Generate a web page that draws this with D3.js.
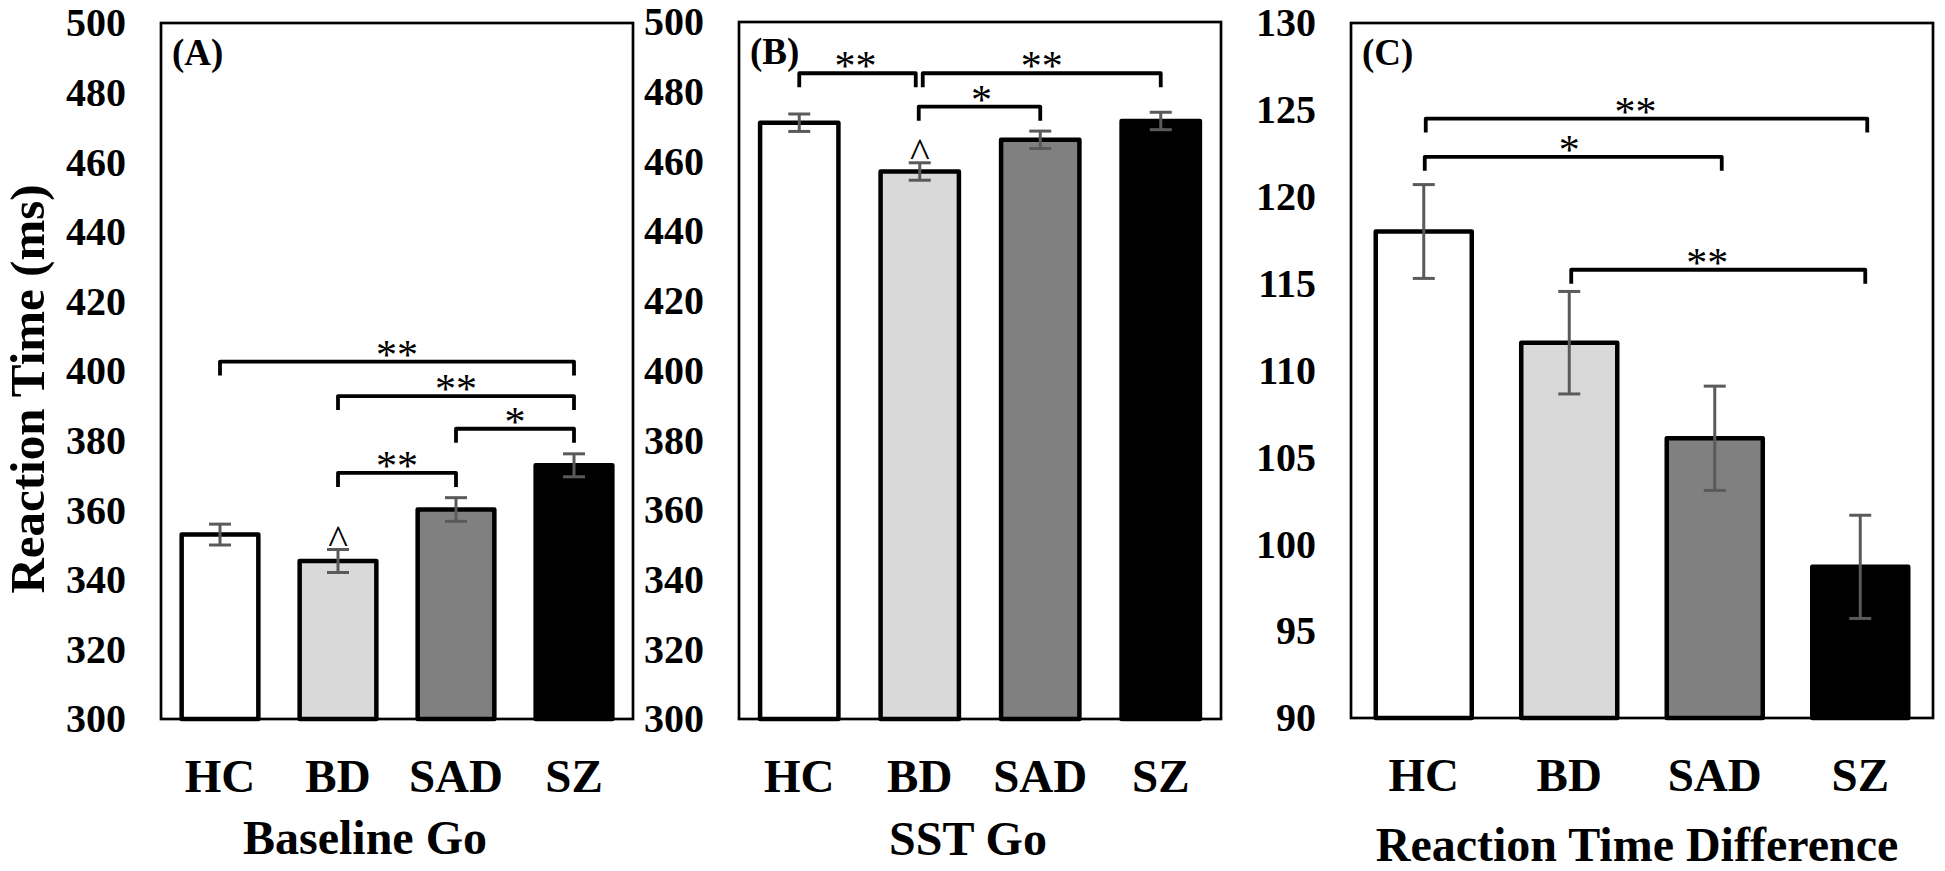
<!DOCTYPE html>
<html>
<head>
<meta charset="utf-8">
<script src="https://cdn.jsdelivr.net/npm/d3@7"></script>
<style>
  html, body { margin: 0; padding: 0; background: #fff; }
  svg { display: block; }
  text { font-family: "Liberation Serif", "Times New Roman", serif; }
</style>
</head>
<body>
<svg id="chart" width="1945" height="871"></svg>
<script>
// ---------------- data ----------------
const categories = ["HC", "BD", "SAD", "SZ"];
const barFills = ["#ffffff", "#d9d9d9", "#808080", "#000000"];

const baselineMeans = [353.0, 345.4, 360.2, 372.9];
const baselineSE    = [3.0, 3.3, 3.4, 3.3];

const sstMeans = [471.1, 457.1, 466.2, 471.6];
const sstSE    = [2.5, 2.5, 2.5, 2.5];

const diffMeans = [118.0, 111.6, 106.1, 98.7];
const diffSE    = [2.7, 2.95, 3.0, 2.97];

const rtTicks   = [300, 320, 340, 360, 380, 400, 420, 440, 460, 480, 500];
const diffTicks = [90, 95, 100, 105, 110, 115, 120, 125, 130];

const baselineBrackets = [
  { from: "HC",  to: "SZ",  level: 402.7, label: "**" },
  { from: "BD",  to: "SZ",  level: 392.8, label: "**" },
  { from: "SAD", to: "SZ",  level: 383.4, label: "*" },
  { from: "BD",  to: "SAD", level: 370.7, label: "**" }
];
const sstBrackets = [
  { from: "HC", to: "BD",  level: 485.3, label: "**" },
  { from: "BD", to: "SZ",  level: 485.3, label: "**" },
  { from: "BD", to: "SAD", level: 475.7, label: "*" }
];
const diffBrackets = [
  { from: "HC", to: "SZ",  level: 124.5, label: "**" },
  { from: "HC", to: "SAD", level: 122.3, label: "*" },
  { from: "BD", to: "SZ",  level: 115.8, label: "**" }
];
const baselineMarks = [{ group: "BD", label: "^" }];
const sstMarks      = [{ group: "BD", label: "^" }];

// ---------------- layout / style ----------------
const panels = [
  { tag: "(A)", title: "Baseline Go", means: baselineMeans, se: baselineSE, ticks: rtTicks,
    domain: [300, 500], brackets: baselineBrackets, marks: baselineMarks,
    box: { l: 161, r: 633, t: 23, b: 719 }, pad: 0.35,
    titleX: 365, titleY: 854,
    nudge: [[0, 0], [0, 0], [0, 0], [0, 0]], labelNudge: [0, 0, 0, 0] },
  { tag: "(B)", title: "SST Go", means: sstMeans, se: sstSE, ticks: rtTicks,
    domain: [300, 500], brackets: sstBrackets, marks: sstMarks,
    box: { l: 739, r: 1221, t: 22, b: 719 }, pad: 0.35,
    titleX: 968, titleY: 855,
    nudge: [[0, -4], [3, 0], [-1, 0]], labelNudge: [-2, 0, 2] },
  { tag: "(C)", title: "Reaction Time Difference", means: diffMeans, se: diffSE, ticks: diffTicks,
    domain: [90, 130], brackets: diffBrackets, marks: [],
    box: { l: 1351, r: 1933, t: 23, b: 718 }, pad: 0.34,
    titleX: 1637, titleY: 861,
    nudge: [[2, 7], [1, 7], [2, 5]], labelNudge: [-11, -4, -11] }
];

const svg = d3.select("#chart");
const FONT = '"Liberation Serif", "Times New Roman", serif';

panels.forEach(p => {
  const g = svg.append("g");
  const x = d3.scaleBand().domain(categories).range([p.box.l, p.box.r])
    .paddingInner(p.pad).paddingOuter(p.pad / 2);
  const y = d3.scaleLinear().domain(p.domain).range([p.box.b, p.box.t]);
  const cx = c => x(c) + x.bandwidth() / 2;

  // y axis labels
  const ya = g.append("g").attr("transform", `translate(${p.box.l},0)`)
    .call(d3.axisLeft(y).tickValues(p.ticks).tickSize(0).tickPadding(35));
  ya.select(".domain").remove();
  ya.selectAll("text").attr("font-family", FONT).attr("font-weight", "bold")
    .attr("font-size", 40).attr("fill", "#000");

  // x axis labels
  const xa = g.append("g").attr("transform", `translate(0,${p.box.b})`)
    .call(d3.axisBottom(x).tickSize(0).tickPadding(40));
  xa.select(".domain").remove();
  xa.selectAll("text").attr("font-family", FONT).attr("font-weight", "bold")
    .attr("font-size", 47).attr("fill", "#000");

  // bars
  g.selectAll("rect.bar").data(categories).join("rect")
    .attr("class", "bar")
    .attr("x", d => x(d))
    .attr("width", x.bandwidth())
    .attr("y", (d, i) => y(p.means[i]))
    .attr("height", (d, i) => y(p.domain[0]) - y(p.means[i]))
    .attr("fill", (d, i) => barFills[i])
    .attr("stroke", "#000")
    .attr("stroke-width", 4.5)
    .attr("stroke-linejoin", "round");

  // error bars
  const eg = g.append("g").attr("stroke", "#5a5a5a").attr("stroke-width", 3).attr("fill", "none");
  categories.forEach((c, i) => {
    const hi = y(p.means[i] + p.se[i]), lo = y(p.means[i] - p.se[i]);
    eg.append("line").attr("x1", cx(c)).attr("x2", cx(c)).attr("y1", hi).attr("y2", lo);
    eg.append("line").attr("x1", cx(c) - 11).attr("x2", cx(c) + 11).attr("y1", hi).attr("y2", hi);
    eg.append("line").attr("x1", cx(c) - 11).attr("x2", cx(c) + 11).attr("y1", lo).attr("y2", lo);
  });

  // frame
  g.append("rect")
    .attr("x", p.box.l).attr("y", p.box.t)
    .attr("width", p.box.r - p.box.l).attr("height", p.box.b - p.box.t)
    .attr("fill", "none").attr("stroke", "#000").attr("stroke-width", 2.7);

  // significance brackets
  p.brackets.forEach((br, k) => {
    const x1 = cx(br.from) + p.nudge[k][0];
    const x2 = cx(br.to) + p.nudge[k][1];
    const yy = y(br.level);
    g.append("path")
      .attr("d", `M${x1},${yy + 14} L${x1},${yy} L${x2},${yy} L${x2},${yy + 14}`)
      .attr("fill", "none").attr("stroke", "#000").attr("stroke-width", 3.8)
      .attr("stroke-linejoin", "round");
    g.append("text")
      .attr("x", (x1 + x2) / 2 + p.labelNudge[k])
      .attr("y", yy + 7)
      .attr("text-anchor", "middle")
      .attr("font-family", FONT).attr("font-size", 42).attr("fill", "#000")
      .text(br.label);
  });

  // ^ markers
  p.marks.forEach(m => {
    const i = categories.indexOf(m.group);
    g.append("text")
      .attr("x", cx(m.group))
      .attr("y", y(p.means[i] + p.se[i]) + 4)
      .attr("text-anchor", "middle")
      .attr("font-family", '"Liberation Sans", Arial, sans-serif')
      .attr("font-size", 42).attr("fill", "#000")
      .text(m.label);
  });

  // panel tag
  g.append("text")
    .attr("x", p.box.l + 11).attr("y", p.box.t + 42)
    .attr("font-family", FONT).attr("font-weight", "bold").attr("font-size", 37)
    .text(p.tag);

  // panel title
  g.append("text")
    .attr("x", p.titleX).attr("y", p.titleY)
    .attr("text-anchor", "middle")
    .attr("font-family", FONT).attr("font-weight", "bold").attr("font-size", 48)
    .text(p.title);
});

// shared y axis title
svg.append("text")
  .attr("transform", "translate(44,389) rotate(-90)")
  .attr("text-anchor", "middle")
  .attr("font-family", FONT).attr("font-weight", "bold").attr("font-size", 49)
  .text("Reaction Time (ms)");
</script>
</body>
</html>
